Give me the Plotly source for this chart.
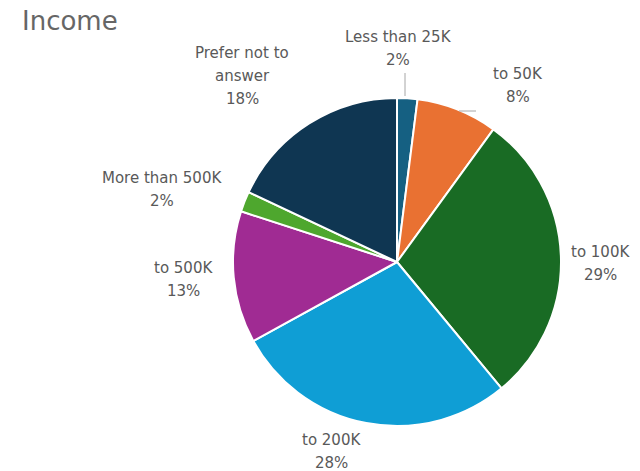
import plotly.graph_objects as go

# ---- data ----
categories = ["Less than 25K", "to 50K", "to 100K", "to 200K", "to 500K",
              "More than 500K", "Prefer not to answer"]
display_names = ["Less than 25K", "to 50K", "to 100K", "to 200K", "to 500K",
                 "More than 500K", "Prefer not to<br>answer"]
values = [2, 8, 29, 28, 13, 2, 18]
title_text = "Income"

# ---- style ----
colors = ["#156082", "#E97132", "#196B24", "#0F9ED5", "#A02B93", "#4EA72E", "#0F3652"]
W, H = 640, 471
# label anchor positions in pixels (center x, first line y)
label_pos = [(398, 37), (518, 74), (600, 252), (331, 440), (183, 268), (162, 178), (242, 53)]
line_gap = 23
text_color = "#595959"
font_family = "DejaVu Sans, sans-serif"

cx, cy, r = 397, 262, 164

fig = go.Figure(go.Pie(
    labels=categories,
    values=values,
    sort=False,
    direction="clockwise",
    rotation=0,
    marker=dict(colors=colors, line=dict(color="white", width=2)),
    textinfo="none",
    hoverinfo="label+percent",
    showlegend=False,
    domain=dict(x=[(cx - r) / W, (cx + r) / W], y=[1 - (cy + r) / H, 1 - (cy - r) / H]),
))

total = sum(values)
annotations = []
for name, v, (px, py) in zip(display_names, values, label_pos):
    lines = name.split("<br>") + [f"{round(100 * v / total)}%"]
    for i, ln in enumerate(lines):
        annotations.append(dict(
            x=px / W, y=1 - (py + i * line_gap) / H, xref="paper", yref="paper",
            text=ln, showarrow=False, xanchor="center", yanchor="middle",
            font=dict(size=15, color=text_color, family=font_family),
        ))

annotations.append(dict(
    x=20 / W, y=1 - 21 / H, xref="paper", yref="paper", text=title_text,
    showarrow=False, xanchor="left", yanchor="middle",
    font=dict(size=26, color="#666666", family=font_family),
))

shapes = [
    dict(type="line", xref="paper", yref="paper",
         x0=405 / W, x1=405 / W, y0=1 - 73 / H, y1=1 - 96 / H,
         line=dict(color="#A6A6A6", width=1)),
    dict(type="line", xref="paper", yref="paper",
         x0=459 / W, x1=476 / W, y0=1 - 111 / H, y1=1 - 111 / H,
         line=dict(color="#A6A6A6", width=1)),
]

fig.update_layout(
    width=W, height=H,
    margin=dict(l=0, r=0, t=0, b=0),
    paper_bgcolor="white", plot_bgcolor="white",
    annotations=annotations,
    shapes=shapes,
)

fig.write_html("out.html", config={"displayModeBar": False},
               post_script="document.body.style.margin='0';document.body.style.overflow='hidden';")
